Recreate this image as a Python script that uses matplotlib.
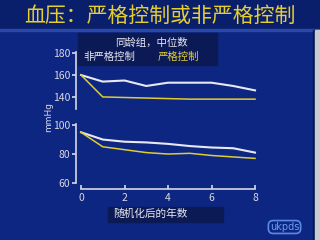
import matplotlib
matplotlib.use("Agg")
import matplotlib.pyplot as plt
from matplotlib.patches import Rectangle

plt.rcParams['font.family'] = ['Noto Sans CJK SC', 'DejaVu Sans']

# data
years = [0, 1, 2, 3, 4, 5, 6, 7, 8]
sbp_less = [160, 154, 155, 150, 153, 153, 153, 150, 146]   # 非严格控制 (white)
sbp_tight = [160, 140, 139.5, 139, 138.5, 138, 138, 138, 138]  # 严格控制 (yellow)
dbp_less = [95, 90, 88.5, 88, 87, 85.5, 84.5, 84, 81]
dbp_tight = [95, 85, 83, 81, 80, 80.5, 79, 78, 77]
upper_ticks = [140, 160, 180]
lower_ticks = [60, 80, 100]
x_ticks = [0, 2, 4, 6, 8]

title = "血压：严格控制或非严格控制"
legend_title = "同龄组，中位数"
label_less = "非严格控制"
label_tight = "严格控制"
xlabel = "随机化后的年数"
ylabel = "mmHg"

BG = "#0d2682"
BAND = "#0a1f6c"
BOX = "#0b1a55"
YELLOW = "#e6cf2e"
LINEYEL = "#e0cc30"
WHITE = "#e8e8f0"
TICKC = "#d8d8e2"

W, H = 320, 240


def fx(x):
    return x / W


def fy(y):
    return 1 - y / H


fig = plt.figure(figsize=(3.2, 2.4), dpi=100, facecolor=BG)

# background bands
fig.patches.append(Rectangle((0, fy(29)), 1, 29 / H, transform=fig.transFigure,
                             color=BAND, zorder=0))
fig.patches.append(Rectangle((0, fy(31)), 1, 2 / H, transform=fig.transFigure,
                             color="#2a48a8", zorder=0))
fig.patches.append(Rectangle((fx(313), 0), 2 / W, fy(30), transform=fig.transFigure,
                             color="#08164a", zorder=0))
fig.patches.append(Rectangle((fx(315), 0), 5 / W, fy(30), transform=fig.transFigure,
                             color="#c9cad2", zorder=0))
# legend & label boxes
fig.patches.append(Rectangle((fx(78), fy(65)), 139 / W, 32 / H, transform=fig.transFigure,
                             color=BOX, zorder=0))
fig.patches.append(Rectangle((fx(108), fy(222)), 115 / W, 15 / H, transform=fig.transFigure,
                             color=BOX, zorder=0))

fig.text(0.5, fy(16), title, color=YELLOW, fontsize=15, ha="center", va="center")

xl = (-0.23, 8.3)
ax_left = 76
ax_right = 81 + 8.3 * 21.75

# upper panel (systolic)
ax1 = fig.add_axes([fx(ax_left), fy(109), (ax_right - ax_left) / W, (109 - 52) / H])
ax1.set_facecolor("none")
ax1.plot(years, sbp_less, color=WHITE, lw=1.5)
ax1.plot(years, sbp_tight, color=LINEYEL, lw=1.1)
ax1.set_xlim(*xl)
ax1.set_ylim(129, 181)
ax1.set_yticks(upper_ticks)
ax1.set_xticks([])
for s in ["top", "right", "bottom"]:
    ax1.spines[s].set_visible(False)
ax1.spines["left"].set_color(TICKC)
ax1.spines["left"].set_linewidth(1.2)
ax1.tick_params(axis="y", colors=TICKC, labelsize=7.5, length=3, width=1.2, pad=1)

# lower panel (diastolic)
ax2 = fig.add_axes([fx(ax_left), fy(189), (ax_right - ax_left) / W, (189 - 124) / H])
ax2.set_facecolor("none")
ax2.plot(years, dbp_less, color=WHITE, lw=1.5)
ax2.plot(years, dbp_tight, color=LINEYEL, lw=1.1)
ax2.set_xlim(*xl)
ax2.set_ylim(55.9, 100.7)
ax2.set_yticks(lower_ticks)
ax2.set_xticks(x_ticks)
for s in ["top", "right"]:
    ax2.spines[s].set_visible(False)
ax2.spines["left"].set_bounds(60, 100.7)
ax2.spines["bottom"].set_bounds(0, 8)
for s in ["left", "bottom"]:
    ax2.spines[s].set_color(TICKC)
    ax2.spines[s].set_linewidth(1.2)
ax2.tick_params(axis="y", colors=TICKC, labelsize=7.5, length=3, width=1.2, pad=1)
ax2.tick_params(axis="x", colors=TICKC, labelsize=7.5, length=3, width=1.2,
                direction="in", pad=3)

fig.text(fx(49), fy(117), ylabel, color=TICKC, fontsize=6.5, rotation=90,
         ha="center", va="center", family="DejaVu Sans")

# legend texts
fig.text(fx(151), fy(43), legend_title, color=WHITE, fontsize=7.5, ha="center", va="center")
fig.text(fx(83), fy(57), label_less, color=WHITE, fontsize=7.5, ha="left", va="center")
fig.text(fx(158), fy(57), label_tight, color=YELLOW, fontsize=7.5, ha="left", va="center")

fig.text(fx(113), fy(214), xlabel, color=WHITE, fontsize=7.7, ha="left", va="center")

# logo
fig.text(fx(284.5), fy(227), "ukpds", color="#6f9cf5", fontsize=7, ha="center", va="center",
         family="DejaVu Sans",
         bbox=dict(boxstyle="round,pad=0.15,rounding_size=0.5", fc=BG, ec="#5a8ae8", lw=1.2))

fig.savefig("out.png", dpi=100, facecolor=BG)
